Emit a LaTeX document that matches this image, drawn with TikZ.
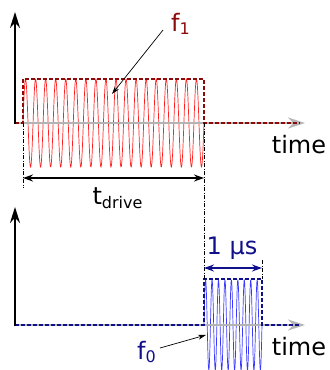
\documentclass[tikz,border=0pt]{standalone}
\usepackage{fontspec}
\setmainfont{DejaVu Sans}
\usetikzlibrary{arrows.meta}
\definecolor{dunkelrot}{HTML}{8B0A0A}
\definecolor{hellrot}{HTML}{FF2020}
\definecolor{dunkelblau}{HTML}{10108A}
\definecolor{hellblau}{HTML}{3A3AFF}
\definecolor{hgrau}{HTML}{B4B4B4}
\tikzset{
  ax/.style={-{Stealth[length=8pt,width=5pt]},black,line width=1pt},
  axg/.style={-{Stealth[length=8.5pt,width=5.5pt]},hgrau,line width=1pt},
  sigrot/.style={hellrot,line width=0.35pt},
  sigblau/.style={hellblau,line width=0.35pt},
  huelrot/.style={dunkelrot,line width=0.8pt,dash pattern=on 2pt off 1pt},
  huelblau/.style={dunkelblau,line width=0.8pt,dash pattern=on 2pt off 1pt},
  hilf/.style={black,line width=0.3pt,dash pattern=on 2pt off 0.8pt on 0.4pt off 0.8pt},
  mass/.style={{Stealth[length=5pt,width=3.5pt]}-{Stealth[length=5pt,width=3.5pt]},line width=0.8pt},
  zeiger/.style={-{Stealth[length=4pt,width=2.5pt]},black,line width=0.35pt},
  txt/.style={font=\large,inner sep=0pt},
}
\begin{document}
\begin{tikzpicture}[x=0.5pt,y=-0.5pt]
  \useasboundingbox (0,0) rectangle (330,370);
  % oben: Drive-Puls
  \coordinate (o0) at (15,123);
  \coordinate (oa) at (23,123);
  \coordinate (ob) at (204,123);
  \coordinate (oend) at (305,123);
  \draw[sigrot] plot[domain=23:204,samples=600] (\x,{123-44*sin(18*(\x-23)/181*360)});
  \draw[axg] (o0)--(oend);
  \draw[huelrot] (o0)--(oa)--(23,79)--(204,79)--(ob)--(300,123);
  \draw[ax] (15,124)--(15,12);
  \draw[hilf] (oa)--(23,188);
  \draw[mass] (23,178)--(204,178);
  \node[txt] (zeitA) at (299,145) {time};
  \node[txt,dunkelrot] (lf1) at (181,24) {f\textsubscript{1}};
  \coordinate (zf1) at (112,94);
  \draw[zeiger] (163,30)--(zf1);
  \node[txt] (ltd) at (118,198) {t\textsubscript{drive}};
  % unten: Auslese-Puls
  \coordinate (u0) at (15,325);
  \coordinate (ua) at (204,325);
  \coordinate (ub) at (262,325);
  \coordinate (uend) at (305,325);
  \draw[sigblau] plot[domain=204:262,samples=400] (\x,{325-45*sin(9*(\x-204)/58*360)});
  \draw[axg] (u0)--(uend);
  \draw[huelblau] (u0)--(ua)--(204,279)--(262,279)--(ub)--(300,325);
  \draw[ax] (15,326)--(15,207);
  \draw[hilf] (ob)--(204,279);
  \draw[hilf] (262,260)--(262,279);
  \draw[mass,dunkelblau] (204,268)--(262,268);
  \node[txt,dunkelblau] (lmu) at (232,248) {1 μs};
  \node[txt] (zeitB) at (299,347) {time};
  \node[txt,dunkelblau] (lf0) at (147,352) {f\textsubscript{0}};
  \coordinate (zf0) at (206,335);
  \draw[zeiger] (160,348)--(zf0);
\end{tikzpicture}
\end{document}
